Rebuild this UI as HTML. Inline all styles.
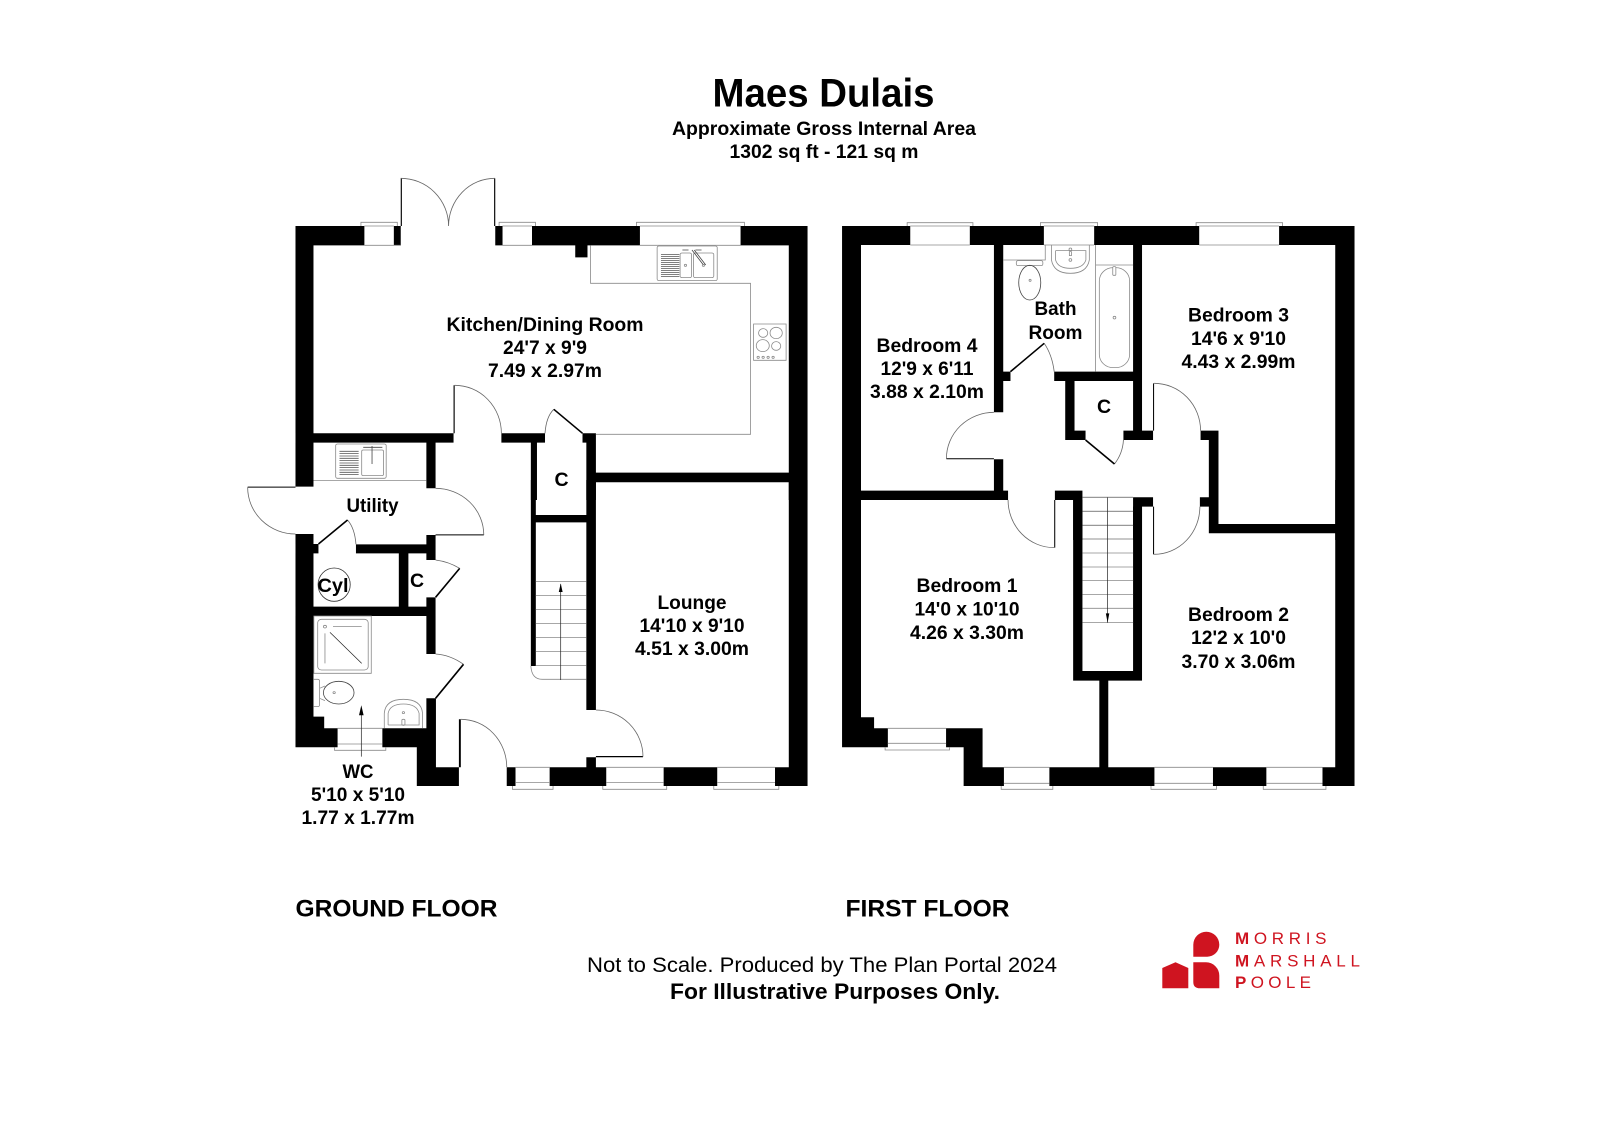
<!DOCTYPE html>
<html><head><meta charset="utf-8"><style>
html,body{margin:0;padding:0;background:#fff}
svg{display:block}
.w{fill:#000;stroke:none}
.t,.a,.b{fill:none;vector-effect:non-scaling-stroke}
.t *,.a *,.b *{vector-effect:non-scaling-stroke}
.t{stroke:#8a8a8a;stroke-width:.8}
.a{stroke:#666;stroke-width:.8}
.b{stroke:#000;stroke-width:1.6}
text{font-family:"Liberation Sans",Arial,sans-serif;font-weight:700;fill:#000;text-anchor:middle}
.l{font-size:19.5px}
.logo{fill:#cf1420;font-weight:400;text-anchor:start;font-size:17px}
.logo tspan{font-weight:700}
</style></head><body>
<svg width="1600" height="1130" viewBox="0 0 1600 1130" xmlns="http://www.w3.org/2000/svg">
<rect width="1600" height="1130" fill="#fff"/>

<!-- GROUND upper -->
<g transform="translate(240,160) scale(.3827,.3333)">
<path class="w" d="M145 198H325V256H145ZM402 198H420V256H402ZM667 198H686V256H667ZM763 198H1045V256H763ZM1308 198H1483V256H1308ZM876 256H908V292H876ZM145 256H192V980H145ZM1434 256H1483V1020H1434ZM192 820H558V848H192ZM683 820H797V848H683ZM895 820H930V848H895ZM487 848H511V985H487ZM760 848H776V1020H760ZM905 848H930V1020H905ZM930 938H1434V967H930ZM558 676H561V820H558ZM420 55H423V198H420ZM664 55H667V198H664Z"/>
<g class="a">
<path d="M420 55A125 143 0 0 1 545 198M666 55A121 143 0 0 0 545 198M561 676A122 144 0 0 1 683 820M820 748Q800 770 797 820"/>
</g>
<path class="b" d="M820 748L895 820"/>
<g class="t">
<path d="M316 198V187H411V198M677 198V187H772V198M1036 198V187H1318V198M325 198H402M686 198H763M1045 198H1308M325 256H420M686 256H763M1045 256H1308"/>
<path d="M916 256V370H1334V823H930"/>
<rect x="1090" y="258" width="157" height="104" rx="5"/>
<path d="M1100 284H1148M1100 290H1148M1100 296H1148M1100 302H1148M1100 308H1148M1100 314H1148M1100 320H1148M1100 326H1148M1100 332H1148M1100 338H1148M1100 344H1148M1100 350H1148" stroke="#555"/>
<rect x="1150" y="279" width="30" height="74" rx="5"/>
<rect x="1185" y="279" width="53" height="74" rx="5"/>
<path d="M1181 270L1211 315M1187 270L1217 315M1156 270H1172M1190 270H1206" stroke="#444"/>
<circle cx="1164" cy="316" r="3"/><circle cx="1211" cy="316" r="3"/>
<rect x="1342" y="492" width="85" height="109"/>
<ellipse cx="1367" cy="519" rx="12" ry="13"/><ellipse cx="1401" cy="519" rx="16" ry="17"/>
<ellipse cx="1366" cy="557" rx="17" ry="18"/><ellipse cx="1401" cy="558" rx="12" ry="13"/>
<circle cx="1354" cy="592" r="3"/><circle cx="1367" cy="592" r="3"/><circle cx="1380" cy="592" r="3"/><circle cx="1393" cy="592" r="3"/>
<rect x="250" y="852" width="132" height="103" rx="5"/>
<path d="M260 874H310M260 881H310M260 888H310M260 895H310M260 902H310M260 909H310M260 916H310M260 923H310M260 930H310M260 937H310M260 944H310" stroke="#555"/>
<rect x="318" y="870" width="57" height="77" rx="4"/>
<path d="M345 858V912M322 862H372" stroke="#444"/>
<path d="M192 962H487"/>
</g>
</g>

<!-- GROUND lower -->
<g transform="translate(240,480) scale(.3827,.3333)">
<path class="w" d="M1434 0H1483V918H1398V862H1434ZM760 0H773V558H760ZM773 105H905V127H773ZM905 0H930V690H905ZM905 832H930V862H905ZM809 862H957V918H809ZM697 862H720V918H697ZM1107 862H1247V918H1107ZM145 162H192V802H145ZM192 192H205V220H192ZM303 193H511V220H303ZM487 165H511V240H487ZM415 220H440V380H415ZM192 380H487V408H192ZM487 352H511V522H487ZM487 655H512V862H487ZM145 745H255V802H145ZM192 710H220V745H192ZM372 745H512V802H372ZM462 802H512V918H462ZM512 862H572V918H512ZM572 718H577V862H572ZM930 828H1053V832H930ZM20 20H145V23H20ZM511 163H637V166H511Z"/>
<g class="a">
<path d="M930 690A123 140 0 0 1 1053 830M577 718A120 144 0 0 1 697 862M20 22A125 140 0 0 0 145 162M511 25A126 140 0 0 1 637 165M281 120Q300 145 303 193M511 240Q545 245 574 265M511 522Q550 525 584 553"/>
</g>
<path class="b" d="M205 192L281 120M511 352L574 265M511 655L584 553"/>
<g class="t">
<path d="M720 862H809V918M720 862V918M720 908H809M712 918V928H818V918M957 862H1107M957 908H1107M948 918V928H1115V918M1247 862H1398M1247 908H1398M1238 918V928H1408V918M255 745H372M255 792H372M247 802V811H381V802"/>
<path d="M773 305H905M773 347H905M773 389H905M773 431H905M773 473H905M773 515H905M773 557H905" />
<path d="M760 558Q762 598 790 598H905"/>
<rect x="193" y="408" width="150" height="172"/>
<rect x="203" y="418" width="132" height="152" rx="10"/>
<path d="M243 440H318M222 460V550"/>
<circle cx="222" cy="440" r="4"/>
<path d="M193 598H203Q208 598 208 604V674Q208 680 203 680H193M208 625L222 618M208 655L222 662"/>
<ellipse cx="258" cy="638" rx="40" ry="34" stroke="#444"/>
<circle cx="246" cy="638" r="3"/>
<path d="M377 744V700Q380 658 427 658Q474 658 477 700V744M387 735V700Q392 672 427 672Q462 672 468 700V735H387"/>
<circle cx="427" cy="698" r="3"/><rect x="423" y="718" width="8" height="18" rx="3"/>
</g>
<path d="M235 457L318 550M838 600V312M317 830V690" fill="none" stroke="#222" stroke-width=".7" vector-effect="non-scaling-stroke"/>
<path d="M838 310L833 336H843ZM317 676L311 706H323Z" fill="#000"/>
<ellipse cx="246" cy="314" rx="42" ry="50" fill="none" stroke="#333" stroke-width=".8" vector-effect="non-scaling-stroke"/>
</g>

<!-- FIRST upper -->
<g transform="translate(830,200) scale(.3444,.3333)">
<path class="w" d="M35 78H233V135H35ZM406 78H621V135H406ZM767 78H1072V135H767ZM1304 78H1523V135H1304ZM35 135H90V1020H35ZM1467 135H1523V1020H1467ZM476 135H503V637H476ZM503 515H524V543H503ZM476 778H503V900H476ZM90 872H517V900H90ZM880 135H906V692H880ZM651 515H906V543H651ZM683 543H710V720H683ZM683 692H742V720H683ZM852 692H938V720H852ZM1076 692H1128V720H1076ZM1100 720H1128V1000H1100ZM1074 892H1100V920H1074ZM1100 972H1467V1000H1100ZM653 872H733V900H653ZM706 900H733V1020H706ZM880 892H938V920H880ZM880 920H906V1020H880ZM938 550H941V692H938ZM338 775H476V778H338Z"/>
<g class="a">
<path d="M476 637A138 139 0 0 0 338 776M941 550A135 142 0 0 1 1076 692M622 430Q645 465 651 515M826 792Q850 760 852 720"/>
</g>
<path class="b" d="M524 515L622 430M742 720L826 792"/>
<g class="t">
<path d="M224 78V68H415V78M611 78V68H777V78M1063 78V68H1314V78M233 78H406M621 78H767M1072 78H1304M233 135H406M621 135H767M1072 135H1304"/>
<path d="M503 180H625V135M771 135V515M771 195H880"/>
<rect x="541" y="182" width="77" height="15" rx="5"/>
<ellipse cx="580" cy="248" rx="32" ry="52" stroke="#444"/>
<circle cx="581" cy="241" r="3"/>
<path d="M643 135V180Q650 220 698 220Q746 220 753 180V135M655 152V180Q662 205 698 205Q735 205 743 180V152H655"/>
<circle cx="698" cy="148" r="4"/><circle cx="698" cy="180" r="4"/><rect x="695" y="155" width="6" height="12"/>
<rect x="782" y="203" width="88" height="300" rx="40"/>
<circle cx="826" cy="353" r="4"/><rect x="821" y="200" width="9" height="26" rx="3" fill="#fff"/>
<path d="M733 892H880M733 934H880M733 976H880M733 1017H880"/>
</g>
</g>

<!-- FIRST lower -->
<g transform="translate(830,480) scale(.3444,.3333)">
<path class="w" d="M35 0H90V802H35ZM35 745H168V802H35ZM90 712H128V745H90ZM337 745H443V802H337ZM388 802H443V918H388ZM388 862H505V918H388ZM637 862H942V918H637ZM1112 862H1267V918H1112ZM1430 862H1523V918H1430ZM1467 0H1523V862H1467ZM706 60H733V602H706ZM880 80H906V602H880ZM706 573H906V602H706ZM782 602H808V862H782ZM651 60H654V203H651ZM938 80H941V223H938Z"/>
<g class="a">
<path d="M517 60A134 143 0 0 0 651 203M1074 80A133 143 0 0 1 941 223"/>
</g>
<g class="t">
<path d="M733 52H880M733 94H880M733 136H880M733 177H880M733 219H880M733 261H880M733 302H880M733 344H880M733 385H880M733 428H880"/>
<path d="M168 745H337M168 790H337M160 802V810H347V802M505 862H637M505 910H637M497 918V928H647V918M942 862H1112M942 910H1112M932 918V928H1122V918M1267 862H1430M1267 910H1430M1258 918V928H1440V918"/>
</g>
<path d="M806 52V428" fill="none" stroke="#222" stroke-width=".7" vector-effect="non-scaling-stroke"/>
<path d="M806 428L801 400H811Z" fill="#000"/>
</g>

<!-- Titles -->
<text x="823.5" y="106.500" font-size="39.500" textLength="222" lengthAdjust="spacingAndGlyphs">Maes Dulais</text>
<text x="824" y="135" font-size="19" textLength="304" lengthAdjust="spacingAndGlyphs">Approximate Gross Internal Area</text>
<text x="824" y="158" font-size="19" textLength="189" lengthAdjust="spacingAndGlyphs">1302 sq ft - 121 sq m</text>

<!-- Rooms -->
<g class="l">
<text x="545" y="331" textLength="197" lengthAdjust="spacingAndGlyphs">Kitchen/Dining Room</text>
<text x="545" y="354" textLength="84" lengthAdjust="spacingAndGlyphs">24'7 x 9'9</text>
<text x="545" y="377" textLength="114" lengthAdjust="spacingAndGlyphs">7.49 x 2.97m</text>
<text x="692" y="609" textLength="69" lengthAdjust="spacingAndGlyphs">Lounge</text>
<text x="692" y="632" textLength="105" lengthAdjust="spacingAndGlyphs">14'10 x 9'10</text>
<text x="692" y="655" textLength="114" lengthAdjust="spacingAndGlyphs">4.51 x 3.00m</text>
<text x="372.500" y="512" textLength="52" lengthAdjust="spacingAndGlyphs">Utility</text>
<text x="561.500" y="486">C</text>
<text x="417" y="587">C</text>
<text x="333" y="592" textLength="31" lengthAdjust="spacingAndGlyphs">Cyl</text>
<text x="358" y="778" textLength="31" lengthAdjust="spacingAndGlyphs">WC</text>
<text x="358" y="801" textLength="94" lengthAdjust="spacingAndGlyphs">5'10 x 5'10</text>
<text x="358" y="824" textLength="113" lengthAdjust="spacingAndGlyphs">1.77 x 1.77m</text>
<text x="927" y="352" textLength="101" lengthAdjust="spacingAndGlyphs">Bedroom 4</text>
<text x="927" y="375" textLength="93" lengthAdjust="spacingAndGlyphs">12'9 x 6'11</text>
<text x="927" y="398" textLength="114" lengthAdjust="spacingAndGlyphs">3.88 x 2.10m</text>
<text x="1055.500" y="315" textLength="42" lengthAdjust="spacingAndGlyphs">Bath</text>
<text x="1055.500" y="339" textLength="54" lengthAdjust="spacingAndGlyphs">Room</text>
<text x="1238.500" y="321.500" textLength="101" lengthAdjust="spacingAndGlyphs">Bedroom 3</text>
<text x="1238.500" y="345" textLength="95" lengthAdjust="spacingAndGlyphs">14'6 x 9'10</text>
<text x="1238.500" y="368" textLength="114" lengthAdjust="spacingAndGlyphs">4.43 x 2.99m</text>
<text x="1104" y="413">C</text>
<text x="967" y="592" textLength="101" lengthAdjust="spacingAndGlyphs">Bedroom 1</text>
<text x="967" y="615.500" textLength="105" lengthAdjust="spacingAndGlyphs">14'0 x 10'10</text>
<text x="967" y="639" textLength="114" lengthAdjust="spacingAndGlyphs">4.26 x 3.30m</text>
<text x="1238.500" y="621" textLength="101" lengthAdjust="spacingAndGlyphs">Bedroom 2</text>
<text x="1238.500" y="644" textLength="95" lengthAdjust="spacingAndGlyphs">12'2 x 10'0</text>
<text x="1238.500" y="668" textLength="114" lengthAdjust="spacingAndGlyphs">3.70 x 3.06m</text>
</g>

<!-- Captions -->
<text x="396.500" y="916.500" font-size="24.500" textLength="202" lengthAdjust="spacingAndGlyphs">GROUND FLOOR</text>
<text x="927.500" y="916.500" font-size="24.500" textLength="164" lengthAdjust="spacingAndGlyphs">FIRST FLOOR</text>
<text x="822" y="972" font-size="21.500" style="font-weight:400" textLength="470" lengthAdjust="spacingAndGlyphs">Not to Scale. Produced by The Plan Portal 2024</text>
<text x="835" y="999" font-size="22" textLength="330" lengthAdjust="spacingAndGlyphs">For Illustrative Purposes Only.</text>

<!-- Logo -->
<g fill="#cf1420">
<path d="M1162.300 968L1175.500 962.300L1188.300 968V988.300H1162.300Z"/>
<path d="M1193.300 956.700V944.700A13 13 0 0 1 1206.300 931.700A13 13 0 0 1 1219.300 944.700A12 12 0 0 1 1207.300 956.700Z"/>
<path d="M1193.300 962.300H1206A13.300 13.300 0 0 1 1219.300 975.600V988.300H1200Q1193.300 988.300 1193.300 982Z"/>
</g>
<text class="logo" x="1235" y="944" textLength="91.500"><tspan>M</tspan>ORRIS</text>
<text class="logo" x="1235" y="966.300" textLength="125"><tspan>M</tspan>ARSHALL</text>
<text class="logo" x="1235" y="988" textLength="76"><tspan>P</tspan>OOLE</text>
</svg>
</body></html>
